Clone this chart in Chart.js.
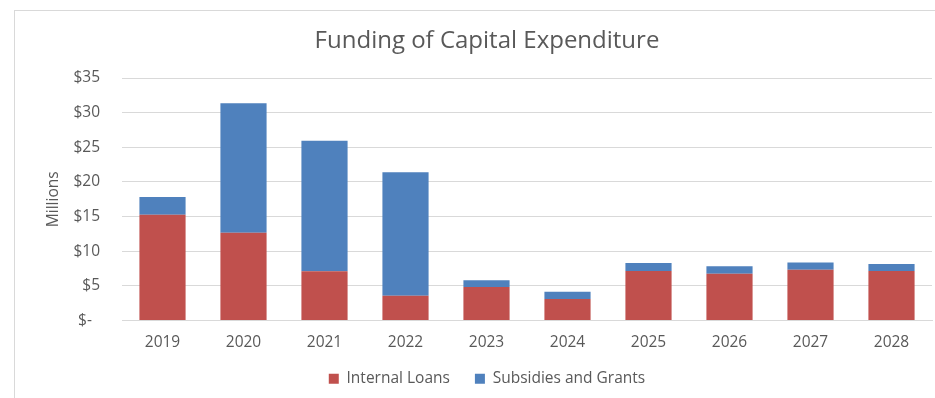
<!DOCTYPE html>
<html>
<head>
<meta charset="utf-8">
<script src="https://cdn.jsdelivr.net/npm/chart.js@4.4.1/dist/chart.umd.min.js"></script>
<style>
  html, body { margin: 0; padding: 0; background: #ffffff; overflow: hidden; }
  #frame {
    position: absolute; left: 14px; top: 10px;
    border: 1px solid #d9d9d9; width: 944px; height: 400px;
  }
  canvas { display: block; }
</style>
</head>
<body>
<div id="frame"><canvas id="chart" width="944" height="387"></canvas></div>
<script>
// Funding sources per year, in millions of dollars
const years = ['2019', '2020', '2021', '2022', '2023', '2024', '2025', '2026', '2027', '2028'];
const internalLoans = [15.26, 12.65, 7.10, 3.57, 4.83, 3.09, 7.15, 6.76, 7.34, 7.15];
const subsidiesAndGrants = [2.56, 18.69, 18.83, 17.82, 0.97, 1.06, 1.16, 1.07, 1.02, 1.01];
const yTicks = [0, 5, 10, 15, 20, 25, 30, 35];

const textColor = '#595959';
const gridColor = '#d9d9d9';
const fontFamily = "'Open Sans', sans-serif";

function dollarLabel(v) {
  return v === 0 ? '$-  ' : '$' + v;
}

new Chart(document.getElementById('chart'), {
  type: 'bar',
  data: {
    labels: years,
    datasets: [
      { label: 'Internal Loans', data: internalLoans, backgroundColor: '#C0504D' },
      { label: 'Subsidies and Grants', data: subsidiesAndGrants, backgroundColor: '#4F81BD' }
    ]
  },
  options: {
    responsive: false,
    animation: false,
    devicePixelRatio: 1,
    layout: { padding: { left: 0, right: 0, top: 0, bottom: 1.5 } },
    datasets: { bar: { categoryPercentage: 1.0, barPercentage: 0.57 } },
    plugins: {
      title: {
        display: true,
        text: 'Funding of Capital Expenditure',
        color: textColor,
        font: { family: fontFamily, size: 24, weight: 'normal' },
        padding: { top: 16.2, bottom: 22 }
      },
      legend: {
        position: 'bottom',
        labels: {
          color: textColor,
          font: { family: fontFamily, size: 15.5 },
          boxWidth: 10,
          boxHeight: 10,
          padding: 25
        }
      },
      tooltip: { enabled: false }
    },
    scales: {
      x: {
        stacked: true,
        grid: { display: false, drawTicks: false },
        border: { display: true, color: gridColor, width: 1 },
        // mirrored ticks are not clipped to the (short) axis box; negative padding puts them below the axis
        ticks: { color: textColor, font: { family: fontFamily, size: 15.5 }, mirror: true, padding: -31.8 },
        afterFit: (scale) => { scale.height = 25.5; }
      },
      y: {
        stacked: true,
        min: 0,
        max: 35,
        afterBuildTicks: (scale) => { scale.ticks = yTicks.map(v => ({ value: v })); },
        grid: { color: gridColor, lineWidth: 1, drawTicks: false },
        border: { display: false },
        ticks: {
          color: textColor,
          font: { family: fontFamily, size: 15.5 },
          padding: 22,
          callback: (v) => dollarLabel(v)
        },
        title: {
          display: true,
          text: 'Millions',
          color: textColor,
          font: { family: fontFamily, size: 15.5 },
          padding: { top: 29, bottom: 0 }
        },
        afterFit: (scale) => { scale.width = 107; }
      },
      // empty margin on the right of the plot, keeps title and legend centred on the frame
      rightMargin: {
        type: 'linear',
        position: 'right',
        display: true,
        grid: { display: false, drawTicks: false },
        border: { display: false },
        ticks: { display: false },
        afterFit: (scale) => { scale.width = 27; }
      }
    }
  }
});
</script>
</body>
</html>
